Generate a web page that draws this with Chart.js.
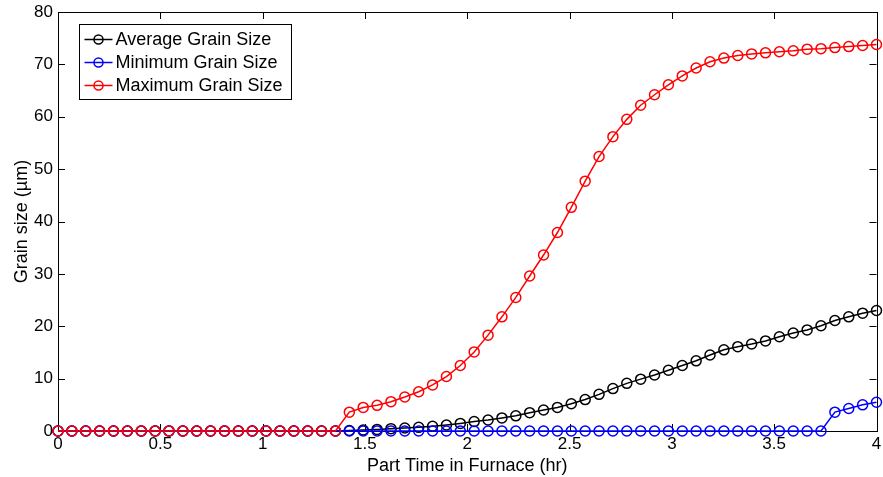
<!DOCTYPE html>
<html>
<head>
<meta charset="utf-8">
<script src="https://cdn.jsdelivr.net/npm/chart.js@4.4.0/dist/chart.umd.min.js"></script>
<style>
  html, body { margin: 0; padding: 0; background: #fff; }
  canvas { display: block; }
</style>
</head>
<body>
<canvas id="chart" width="883" height="477"></canvas>
<script>
// Time samples (hr), 60 evenly spaced steps from 0 to 4
const timeHr = [
  0, 0.0678, 0.1356, 0.2034, 0.2712, 0.3390, 0.4068, 0.4746, 0.5424, 0.6102,
  0.6780, 0.7458, 0.8136, 0.8814, 0.9492, 1.0169, 1.0847, 1.1525, 1.2203, 1.2881,
  1.3559, 1.4237, 1.4915, 1.5593, 1.6271, 1.6949, 1.7627, 1.8305, 1.8983, 1.9661,
  2.0339, 2.1017, 2.1695, 2.2373, 2.3051, 2.3729, 2.4407, 2.5085, 2.5763, 2.6441,
  2.7119, 2.7797, 2.8475, 2.9153, 2.9831, 3.0508, 3.1186, 3.1864, 3.2542, 3.3220,
  3.3898, 3.4576, 3.5254, 3.5932, 3.6610, 3.7288, 3.7966, 3.8644, 3.9322, 4.0
];

// Grain sizes (um)
const avgGrain = [
  0, 0, 0, 0, 0, 0, 0, 0, 0, 0,
  0, 0, 0, 0, 0, 0, 0, 0, 0, 0,
  0, 0.1, 0.2, 0.3, 0.45, 0.57, 0.7, 0.9, 1.15, 1.45,
  1.8, 2.1, 2.5, 2.9, 3.5, 4.0, 4.5, 5.2, 6.0, 7.0,
  8.1, 9.1, 9.9, 10.7, 11.6, 12.5, 13.4, 14.5, 15.5, 16.1,
  16.6, 17.2, 18.0, 18.7, 19.3, 20.1, 21.1, 21.8, 22.5, 23.0
];
const minGrain = [
  0, 0, 0, 0, 0, 0, 0, 0, 0, 0,
  0, 0, 0, 0, 0, 0, 0, 0, 0, 0,
  0, 0, 0, 0, 0, 0, 0, 0, 0, 0,
  0, 0, 0, 0, 0, 0, 0, 0, 0, 0,
  0, 0, 0, 0, 0, 0, 0, 0, 0, 0,
  0, 0, 0, 0, 0, 0, 3.6, 4.3, 5.0, 5.5
];
const maxGrain = [
  0, 0, 0, 0, 0, 0, 0, 0, 0, 0,
  0, 0, 0, 0, 0, 0, 0, 0, 0, 0,
  0, 3.6, 4.5, 4.9, 5.6, 6.5, 7.5, 8.8, 10.4, 12.5,
  15.1, 18.3, 21.8, 25.5, 29.6, 33.6, 37.9, 42.7, 47.7, 52.4,
  56.2, 59.5, 62.2, 64.2, 66.1, 67.8, 69.3, 70.5, 71.2, 71.7,
  72.0, 72.2, 72.4, 72.6, 72.9, 73.0, 73.2, 73.4, 73.6, 73.8
];

const seriesNames = ['Average Grain Size', 'Minimum Grain Size', 'Maximum Grain Size'];
const seriesColors = ['#000000', '#0000ff', '#ff0000'];

const FONT_FAMILY = '"Liberation Sans", Arial, Helvetica, sans-serif';
const tickFont = { family: FONT_FAMILY, size: 17 };
const labelFont = { family: FONT_FAMILY, size: 18 };

function toPoints(values) {
  return values.map((v, i) => ({ x: timeHr[i], y: v }));
}

function makeDataset(label, values, color, order) {
  return {
    label: label,
    data: toPoints(values),
    borderColor: color,
    borderWidth: 1.5,
    pointRadius: 5,
    pointBorderWidth: 1.5,
    pointBorderColor: color,
    pointBackgroundColor: 'rgba(0,0,0,0)',
    pointHoverRadius: 5,
    tension: 0,
    fill: false,
    clip: false,
    order: order, // red on top, black at the bottom
  };
}

// MATLAB-like box with inward ticks on all four sides
const axesBox = {
  id: 'axesBox',
  beforeDatasetsDraw(chart) {
    const { ctx, chartArea: a, scales } = chart;
    const tickLen = 7;
    ctx.save();
    ctx.strokeStyle = '#000';
    ctx.lineWidth = 1;
    ctx.beginPath();
    scales.x.ticks.forEach(t => {
      const px = Math.round(scales.x.getPixelForValue(t.value)) + 0.5;
      ctx.moveTo(px, a.bottom); ctx.lineTo(px, a.bottom - tickLen);
      ctx.moveTo(px, a.top); ctx.lineTo(px, a.top + tickLen);
    });
    scales.y.ticks.forEach(t => {
      const py = Math.round(scales.y.getPixelForValue(t.value)) + 0.5;
      ctx.moveTo(a.left, py); ctx.lineTo(a.left + tickLen, py);
      ctx.moveTo(a.right, py); ctx.lineTo(a.right - tickLen, py);
    });
    ctx.stroke();
    ctx.strokeRect(Math.round(a.left) + 0.5, Math.round(a.top) + 0.5,
      Math.round(a.right - a.left), Math.round(a.bottom - a.top));
    ctx.restore();
  }
};

// Legend box inside the upper-left corner of the plot area
const insideLegend = {
  id: 'insideLegend',
  afterDraw(chart) {
    const { ctx, chartArea: a } = chart;
    const boxX = Math.round(a.left) + 21.5;
    const boxY = Math.round(a.top) + 12.5;
    const boxW = 212, boxH = 75, rowH = 23;
    ctx.save();
    ctx.fillStyle = '#fff';
    ctx.fillRect(boxX, boxY, boxW, boxH);
    ctx.strokeStyle = '#000';
    ctx.lineWidth = 1;
    ctx.strokeRect(boxX, boxY, boxW, boxH);
    ctx.font = labelFont.size + 'px ' + FONT_FAMILY;
    ctx.textBaseline = 'middle';
    chart.data.datasets.forEach((ds, i) => {
      const y = boxY + 15 + i * rowH;
      ctx.strokeStyle = ds.borderColor;
      ctx.lineWidth = 1.5;
      ctx.beginPath();
      ctx.moveTo(boxX + 5, y); ctx.lineTo(boxX + 33, y);
      ctx.stroke();
      ctx.beginPath();
      ctx.arc(boxX + 19, y, 4.5, 0, Math.PI * 2);
      ctx.stroke();
      ctx.fillStyle = '#000';
      ctx.fillText(ds.label, boxX + 36, y + 1);
    });
    ctx.restore();
  }
};

new Chart(document.getElementById('chart'), {
  type: 'line',
  data: {
    datasets: [
      makeDataset(seriesNames[0], avgGrain, seriesColors[0], 3),
      makeDataset(seriesNames[1], minGrain, seriesColors[1], 2),
      makeDataset(seriesNames[2], maxGrain, seriesColors[2], 1),
    ]
  },
  options: {
    responsive: false,
    animation: false,
    layout: { padding: { top: 12, right: 4, left: 0, bottom: 0 } },
    plugins: {
      legend: { display: false },
      tooltip: { enabled: false },
    },
    scales: {
      x: {
        type: 'linear',
        min: 0,
        max: 4,
        grid: { display: false, drawTicks: false, tickLength: 0 },
        border: { display: false },
        ticks: {
          stepSize: 0.5,
          color: '#000',
          font: tickFont,
          padding: 3,
          maxRotation: 0,
          callback: v => String(v),
        },
        title: {
          display: true,
          text: 'Part Time in Furnace (hr)',
          color: '#000',
          font: labelFont,
          padding: { top: 0, bottom: 0 },
        },
        afterFit(scale) {
          scale.height = 46;
          scale.paddingLeft = 0;
          scale.paddingRight = 0;
        },
      },
      y: {
        type: 'linear',
        min: 0,
        max: 80,
        grid: { display: false, drawTicks: false, tickLength: 0 },
        border: { display: false },
        ticks: { stepSize: 10, color: '#000', font: tickFont, padding: 5 },
        title: {
          display: true,
          text: 'Grain size (µm)',
          color: '#000',
          font: labelFont,
          padding: { top: 11, bottom: 0 },
        },
        afterFit(scale) {
          scale.width = 58;
          scale.paddingTop = 0;
          scale.paddingBottom = 0;
        },
      },
    },
  },
  plugins: [axesBox, insideLegend],
});
</script>
</body>
</html>
